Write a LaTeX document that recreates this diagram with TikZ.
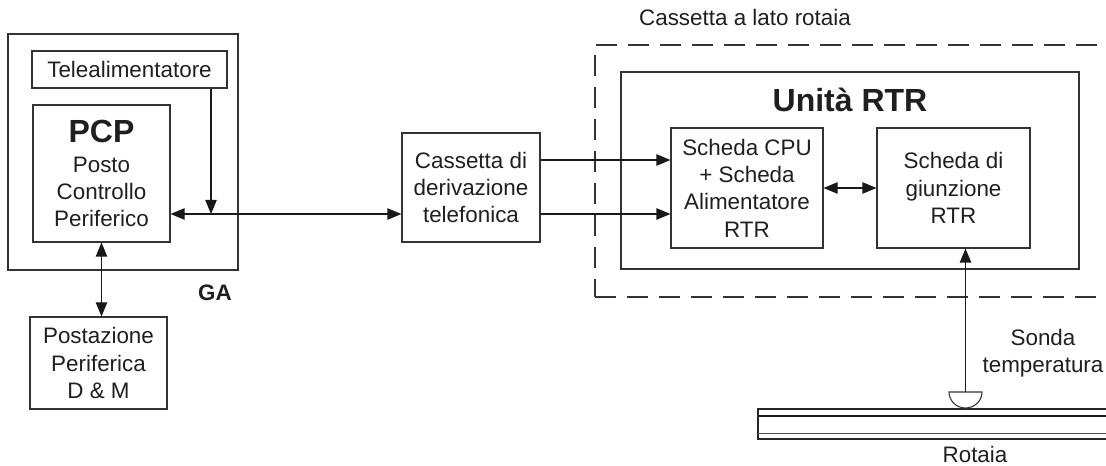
\documentclass[tikz,border=0pt]{standalone}
\usepackage{fontspec}
\setmainfont{Liberation Sans}
\usetikzlibrary{arrows.meta}
\begin{document}
\begin{tikzpicture}[x=0.75pt,y=-0.75pt,
  wh/.style 2 args={minimum width=#1*0.75pt, minimum height=#2*0.75pt},
  txt/.style={align=center, inner sep=0pt, text=black!88, font=\fontsize{16.8}{20.5}\selectfont},
  box/.style={txt, draw=black!80, line width=0.8pt, fill=white},
  big/.style={txt, font=\fontsize{24}{28}\selectfont\bfseries},
  arr/.style={-{Triangle[length=10.5pt,width=8.5pt]}, line width=0.8pt, draw=black!90},
  darr/.style={{Triangle[length=10.5pt,width=8.5pt]}-{Triangle[length=10.5pt,width=8.5pt]}, line width=0.8pt, draw=black!90},
  dashbox/.style={draw=black!80, line width=0.8pt, dash pattern=on 16pt off 8pt}]
\useasboundingbox (0,0) rectangle (1106,466);

% left group
\node[box, wh={230}{236}] (ga) at (123,152) {};
\node[box, wh={195}{37}] (tele) at (129.5,69.5) {Telealimentatore};
\node[box, wh={137}{137}] (pcp) at (101.5,173.5)
  {{\fontsize{24}{28}\selectfont\bfseries PCP}\\[2pt]Posto\\Controllo\\Periferico};
\node[box, wh={137}{92}] (post) at (98.5,363) {Postazione\\Periferica\\D \& M};
\node[txt, font=\fontsize{16.8}{20.5}\selectfont\bfseries, anchor=base] (galbl) at (215,301) {GA};

% middle
\node[box, wh={138}{109}] (cass) at (471,187.5) {Cassetta di\\derivazione\\telefonica};

% right group
\node[dashbox, wh={525}{252}] (lato) at (857.5,171) {};
\node[txt, anchor=base] (latolbl) at (745,26) {Cassetta a lato rotaia};
\node[box, wh={458}{197}] (rtr) at (850,170.5) {};
\node[big, anchor=base] (rtrlbl) at (850,112) {Unità RTR};
\node[box, wh={152}{120}] (cpu) at (747,188) {Scheda CPU\\+ Scheda\\Alimentatore\\RTR};
\node[box, wh={153}{120}] (giun) at (953.5,188) {Scheda di\\giunzione\\RTR};

% rail and probe
\draw[black!85, line width=0.9pt] (758,409) rectangle (1115,439);
\draw[black!90, line width=2pt] (758,416) -- (1115,416);
\draw[black!70, line width=0.7pt] (758,433) -- (1115,433);
\coordinate (probe) at (965.5,392);
\draw[black!80, line width=0.8pt, fill=white] (949,392) -- (982,392)
  arc[start angle=0, end angle=180, x radius=16.5, y radius=16] -- cycle;
\node[txt] (sonda) at (1043,353) {Sonda\\temperatura};
\node[txt, anchor=base] (rotaia) at (975,462) {Rotaia};

% connectors
\coordinate (jn) at (211,214);
\coordinate (l1) at (0,160);
\draw[arr] (tele.south -| jn) -- (jn);
\draw[darr] (pcp.east |- jn) -- (cass.west |- jn);
\draw[darr] (pcp.south) -- (pcp.south |- post.north);
\draw[arr] (cass.east |- l1) -- (cpu.west |- l1);
\draw[arr] (cass.east |- jn) -- (cpu.west |- jn);
\draw[darr] (cpu.east) -- (giun.west);
\draw[arr] (probe) -- (probe |- giun.south);
\end{tikzpicture}
\end{document}
